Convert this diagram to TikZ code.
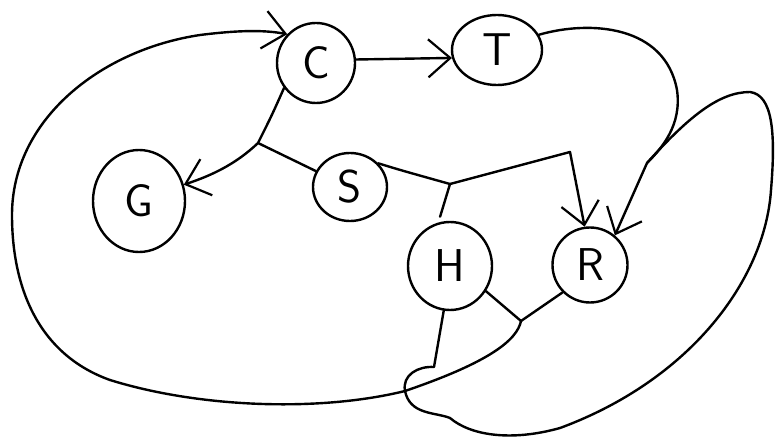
\documentclass[tikz,border=0pt]{standalone}
\usetikzlibrary{shapes.geometric,arrows.meta}
\begin{document}
\begin{tikzpicture}[x=1pt,y=-1pt,
  line width=2.4pt, line cap=round, line join=round,
  vtx/.style={ellipse, draw, inner sep=0pt, font=\fontsize{46}{46}\selectfont\sffamily},
  arr/.style={-{Straight Barb[length=22pt,width=38pt,line width=2.2pt]}},
]
\useasboundingbox (0,0) rectangle (776,438);
\node[vtx, minimum width=78pt, minimum height=80pt] (C) at (316,63) {C};
\node[vtx, minimum width=90pt, minimum height=70pt] (T) at (497,50) {T};
\node[vtx, minimum width=92pt, minimum height=102pt] (G) at (139,201) {G};
\node[vtx, minimum width=74pt, minimum height=68pt] (S) at (350,187) {S};
\node[vtx, minimum width=84pt, minimum height=88pt] (H) at (450,266) {H};
\node[vtx, minimum width=75pt, minimum height=75pt] (R) at (590,265) {R};

\coordinate (J1) at (258,143);
\coordinate (J2) at (450,184);
\coordinate (K2) at (570,152);
\coordinate (J3) at (647,163);
\coordinate (J4) at (521,321);
\coordinate (X) at (405,391);
\coordinate (Y) at (434,367);

% C -> T
\draw[arr] (C.5) -- (T.190);
% {C,S} -> G
\draw[arr] (C.218) .. controls (272,115) .. (J1) .. controls (235,165) and (210,176) .. (G.20);
\draw (S.155) -- (J1);
% {S,H} -> R
\draw (S.40) .. controls (400,170) .. (J2);
\draw[shorten >=6pt] (J2) -- (H.105);
\draw[arr] (J2) -- (K2) -- (R.98);
% {T,H} -> R
\draw (T.20) .. controls (590,20) and (665,25) .. (677,90) .. controls (682,125) and (662,148) .. (J3);
\draw[arr] (J3) -- (R.50);
\draw (J3) .. controls (690,115) and (720,92) .. (750,92) .. controls (772,95) and (776,130) .. (771,190)
  .. controls (765,280) and (690,380) .. (560,428) .. controls (510,442) and (470,435) .. (450,418)
  .. controls (435,412) and (410,415) .. (X) .. controls (402,375) and (418,366) .. (Y) -- (H.262);
% {H,R} -> C
\draw (H.-35) -- (J4) -- (R.225);
\draw[arr] (J4) .. controls (517,340) and (490,362) .. (X) .. controls (320,412) and (200,408) .. (110,380)
  .. controls (40,355) and (12,290) .. (12,215) .. controls (12,120) and (100,50) .. (200,35)
  .. controls (240,30) and (265,30) .. (C.135);
\end{tikzpicture}
\end{document}
